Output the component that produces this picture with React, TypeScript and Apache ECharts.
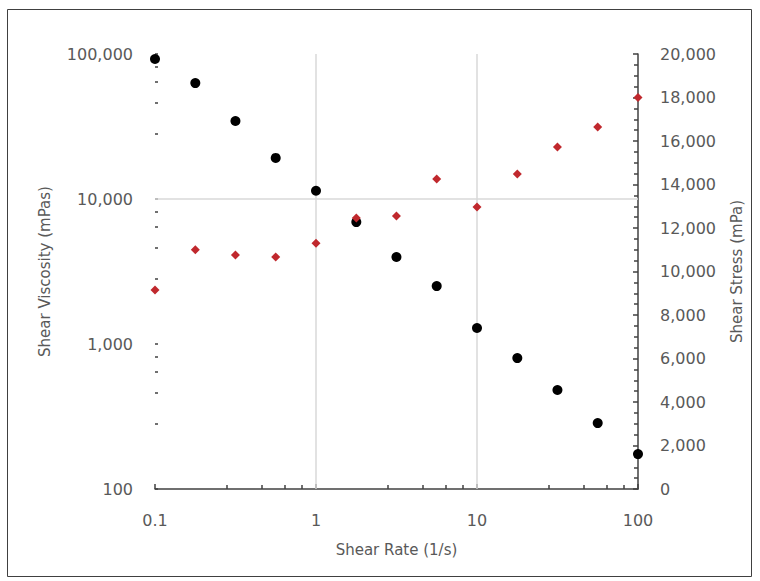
import React, { useEffect, useRef } from "react";
import * as echarts from "echarts";

const shearRate = [0.1, 0.178, 0.316, 0.562, 1, 1.78, 3.16, 5.62, 10, 17.8, 31.6, 56.2, 100];
const viscosity = [92400, 63000, 34500, 19200, 11400, 6930, 3980, 2510, 1290, 800, 482, 285, 174];
const stress = [9150, 11000, 10760, 10670, 11300, 12460, 12550, 14250, 12970, 14480, 15720, 16640, 18000];
const gridX = [1, 10];
const gridY = [10000];

const FONT = "DejaVu Sans";
const TXT = "#595959";
const AX = "#404040";
const GRID = "#d9d9d9";

const fmt = (v: number) => Number(v).toLocaleString("en-US");

export default function App() {
  const ref = useRef<HTMLDivElement>(null);
  useEffect(() => {
    if (!ref.current) return;
    const chart = echarts.init(ref.current, undefined, { renderer: "svg" });
    const gridSeries: any[] = [];
    gridX.forEach((x) =>
      gridSeries.push({
        type: "line",
        data: [
          [x, 100],
          [x, 100000],
        ],
        symbol: "none",
        silent: true,
        z: 1,
        lineStyle: { color: GRID, width: 1.5 },
      })
    );
    gridY.forEach((y) =>
      gridSeries.push({
        type: "line",
        data: [
          [0.1, y],
          [100, y],
        ],
        symbol: "none",
        silent: true,
        z: 1,
        lineStyle: { color: GRID, width: 1.5 },
      })
    );
    chart.setOption({
      animation: false,
      backgroundColor: "#ffffff",
      textStyle: { fontFamily: FONT },
      grid: { left: 155, right: 122, top: 54, bottom: 92 },
      graphic: [
        {
          type: "rect",
          shape: { x: 7.5, y: 9.5, width: 744, height: 567 },
          style: { fill: "none", stroke: AX, lineWidth: 1 },
          silent: true,
          z: -1,
        },
      ],
      xAxis: {
        type: "log",
        logBase: 10,
        min: 0.1,
        max: 100,
        name: "Shear Rate (1/s)",
        nameLocation: "middle",
        nameGap: 53,
        nameTextStyle: { color: TXT, fontSize: 15, fontFamily: FONT },
        axisLine: { show: true, lineStyle: { color: AX, width: 1.5 } },
        axisTick: { show: true, inside: true, length: 5, lineStyle: { color: AX, width: 1.5 } },
        minorTick: { show: true, splitNumber: 5, length: 4, lineStyle: { color: AX, width: 1.5 } },
        splitLine: { show: false },
        axisLabel: {
          color: TXT,
          fontSize: 16,
          fontFamily: FONT,
          margin: 23,
          formatter: (v: number) => String(Number(Number(v).toPrecision(3))),
        },
      },
      yAxis: [
        {
          type: "log",
          logBase: 10,
          min: 100,
          max: 100000,
          position: "left",
          name: "Shear Viscosity (mPas)",
          nameLocation: "middle",
          nameGap: 103,
          nameRotate: 90,
          nameTextStyle: { color: TXT, fontSize: 15, fontFamily: FONT },
          axisLine: { show: false },
          axisTick: { show: true, inside: true, length: 3, lineStyle: { color: AX, width: 1.5 } },
          minorTick: { show: true, splitNumber: 5, length: 3, lineStyle: { color: AX, width: 1.5 } },
          splitLine: { show: false },
          axisLabel: { color: TXT, fontSize: 16, fontFamily: FONT, margin: 22, formatter: fmt },
        },
        {
          type: "value",
          min: 0,
          max: 20000,
          interval: 2000,
          position: "right",
          name: "Shear Stress (mPa)",
          nameLocation: "middle",
          nameGap: 91,
          nameRotate: 90,
          nameTextStyle: { color: TXT, fontSize: 15, fontFamily: FONT },
          axisLine: { show: true, lineStyle: { color: AX, width: 1.5 } },
          axisTick: { show: true, inside: true, length: 5, lineStyle: { color: AX, width: 1.5 } },
          minorTick: { show: true, splitNumber: 4, length: 4, lineStyle: { color: AX, width: 1.5 } },
          splitLine: { show: false },
          axisLabel: { color: TXT, fontSize: 16, fontFamily: FONT, margin: 22, formatter: fmt },
        },
      ],
      series: [
        ...gridSeries,
        {
          name: "Shear Viscosity",
          type: "scatter",
          yAxisIndex: 0,
          symbol: "circle",
          symbolSize: 10,
          itemStyle: { color: "#000000", opacity: 1 },
          z: 3,
          data: shearRate.map((x, i) => [x, viscosity[i]]),
        },
        {
          name: "Shear Stress",
          type: "scatter",
          yAxisIndex: 1,
          symbol: "diamond",
          symbolSize: 9,
          itemStyle: { color: "#c0282d", opacity: 1 },
          z: 4,
          data: shearRate.map((x, i) => [x, stress[i]]),
        },
      ],
    });
    return () => chart.dispose();
  }, []);
  return (
    <div
      ref={ref}
      style={{ position: "fixed", left: 0, top: 0, width: 760, height: 581, background: "#fff" }}
    />
  );
}
